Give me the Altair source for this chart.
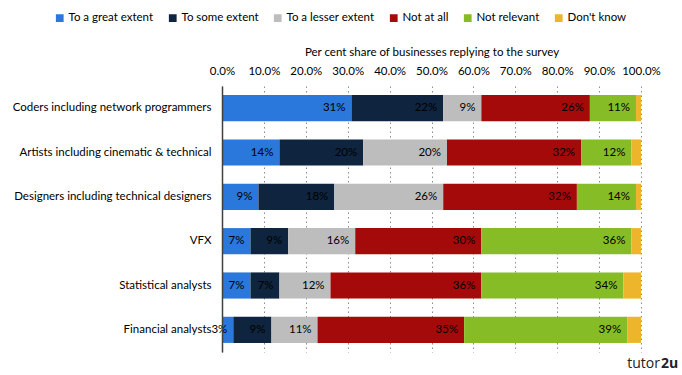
import altair as alt
import pandas as pd

categories = [
    "Coders including network programmers",
    "Artists including cinematic & technical",
    "Designers including technical designers",
    "VFX",
    "Statistical analysts",
    "Financial analysts",
]
series = ["To a great extent", "To some extent", "To a lesser extent",
          "Not at all", "Not relevant", "Don't know"]
colors = ["#2a78dc", "#0f243e", "#bdbdbd", "#a50a0a", "#86bc25", "#edb52b"]

great = [30.9, 13.7, 8.7, 6.8, 6.8, 2.7]
some = [21.9, 20.0, 18.1, 9.0, 6.9, 9.1]
lesser = [9.1, 20.0, 26.0, 16.0, 12.2, 11.0]
not_at_all = [25.9, 32.0, 31.9, 30.1, 36.0, 35.0]
not_relevant = [11.0, 12.0, 14.1, 35.8, 33.9, 38.9]
dont_know = [1.2, 2.3, 1.2, 2.3, 4.2, 3.3]

x_ticks = [0, 10, 20, 30, 40, 50, 60, 70, 80, 90, 100]
x_title = "Per cent share of businesses replying to the survey"

values_by_series = [great, some, lesser, not_at_all, not_relevant, dont_know]
rows = []
for si, (s, vals) in enumerate(zip(series, values_by_series)):
    for c, v in zip(categories, vals):
        rows.append({"category": c, "series": s, "idx": si, "value": v})
df = pd.DataFrame(rows)

FONT = "Lato"
FS = 11.5

x_axis = alt.Axis(
    orient="top", values=x_ticks,
    labelExpr="format(datum.value, '.1f') + '%'",
    labelOverlap=False, labelFlush=False,
    title=x_title, titleFont=FONT, titleFontSize=FS, titleFontWeight="normal",
    titleColor="black", titleBaseline="middle", titleY=-34,
    labelFont=FONT, labelFontSize=FS, labelColor="black", labelPadding=10,
    grid=True, gridDash=[1.5, 3], gridColor="#8c8c8c", gridWidth=1,
    domain=False, ticks=False, tickSize=0,
)
y_axis = alt.Axis(
    title=None, domain=True, domainColor="#404040", domainWidth=1.5,
    ticks=False, tickSize=0, labelPadding=11, labelFont=FONT, labelFontSize=FS,
    labelColor="black", labelLimit=400, grid=False, zindex=1,
)
x_scale = alt.Scale(domain=[0, 100], nice=False)
y_enc = alt.Y("category:N", sort=categories,
              scale=alt.Scale(paddingInner=0.41, paddingOuter=0.205), axis=y_axis)

base = alt.Chart(df)

bars = base.mark_bar().encode(
    y=y_enc,
    x=alt.X("value:Q", stack="zero", scale=x_scale, axis=x_axis),
    color=alt.Color(
        "series:N", scale=alt.Scale(domain=series, range=colors),
        legend=alt.Legend(
            orient="none", legendX=-168, legendY=-74, direction="horizontal",
            title=None, symbolType="square", symbolSize=60, symbolStrokeWidth=0,
            labelFont=FONT, labelFontSize=FS, labelColor="black",
            columnPadding=13, labelOffset=3, padding=0,
        ),
    ),
    order=alt.Order("idx:Q"),
)

labels = base.transform_filter(
    alt.datum.idx < 5
).transform_window(
    cum="sum(value)", groupby=["category"], sort=[alt.SortField("idx")], frame=[None, 0]
).transform_calculate(
    label="format(datum.value, '.0f') + '%'"
).mark_text(
    align="right", baseline="middle", dx=-6, font=FONT, fontSize=FS, color="black"
).encode(
    y=y_enc,
    x=alt.X("cum:Q", scale=x_scale, axis=x_axis),
    text="label:N",
)

wm1 = alt.Chart(pd.DataFrame({"t": ["tutor"]})).mark_text(
    align="right", baseline="middle", font="Open Sans", fontSize=14, color="#222222"
).encode(x=alt.value(438), y=alt.value(278), text="t:N")
wm2 = alt.Chart(pd.DataFrame({"t": ["2u"]})).mark_text(
    align="left", baseline="middle", font="Open Sans", fontSize=14,
    fontWeight="bold", color="#222222"
).encode(x=alt.value(439), y=alt.value(278), text="t:N")

chart = alt.layer(bars, labels, wm1, wm2).properties(
    width=419, height=266,
    autosize=alt.AutoSizeParams(type="none"),
    padding={"left": 222, "top": 86, "right": 41, "bottom": 23},
).configure_view(stroke=None)

chart.save("out.html", embed_options={"renderer": "svg", "actions": False})
